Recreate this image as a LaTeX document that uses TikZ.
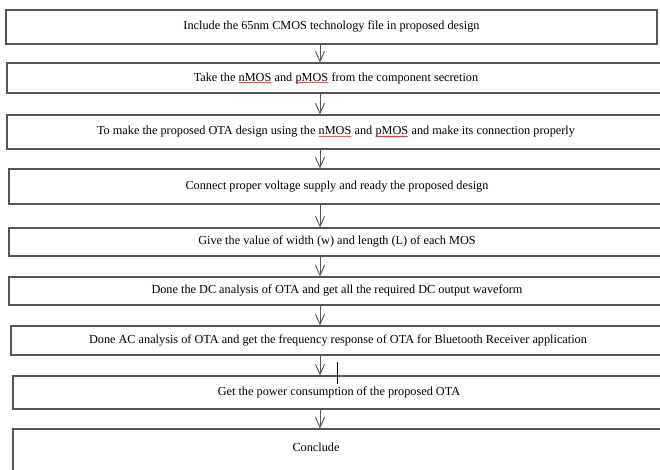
\documentclass[tikz,border=0pt]{standalone}
\usepackage{fontspec}
\setmainfont{Liberation Serif}
\usetikzlibrary{arrows.meta,decorations.pathmorphing}
\definecolor{edge}{HTML}{555555}
\tikzset{
  stepbox/.style={draw=edge, line width=1.2bp, rectangle, inner sep=0pt, anchor=center,
    font=\fontsize{12.3}{14}\selectfont},
  flow/.style={draw=edge, line width=0.9bp, -{Straight Barb[length=10bp,width=9bp]}},
  plain/.style={inner sep=0pt, font=\fontsize{12.3}{14}\selectfont},
}
\newcommand\spellerr[1]{\tikz[baseline=(sw.base)]{\node[draw=none,inner sep=0pt,outer sep=0pt,minimum width=0pt,minimum height=0pt](sw){#1};\draw[red,line width=0.4bp,decorate,decoration={snake,amplitude=0.5bp,segment length=2bp}]([yshift=-1.6bp]sw.base west)--([yshift=-1.6bp]sw.base east);}}
\begin{document}
\begin{tikzpicture}[x=1bp,y=-1bp]
\useasboundingbox (0,0) rectangle (660,470);
\node[stepbox, minimum width=651bp, minimum height=34bp] (b1) at (331.5,27) {Include the 65nm CMOS technology file in proposed design};
\node[stepbox, minimum width=658bp, minimum height=30bp] (b2) at (336,78) {Take the \spellerr{nMOS} and \spellerr{pMOS} from the component secretion};
\node[stepbox, minimum width=658bp, minimum height=34bp] (b3) at (336,132) {To make the proposed OTA design using the \spellerr{nMOS} and \spellerr{pMOS} and make its connection properly};
\node[stepbox, minimum width=656bp, minimum height=35bp] (b4) at (337,186.5) {Connect proper voltage supply and ready the proposed design};
\node[stepbox, minimum width=656bp, minimum height=28bp] (b5) at (337,242) {Give the value of width (w) and length (L) of each MOS};
\node[stepbox, minimum width=656bp, minimum height=28bp] (b6) at (337,291) {Done the DC analysis of OTA and get all the required DC output waveform};
\node[stepbox, minimum width=654bp, minimum height=29bp] (b7) at (338,340.5) {Done AC analysis of OTA and get the frequency response of OTA for Bluetooth Receiver application};
\node[stepbox, minimum width=652bp, minimum height=33bp] (b8) at (339,392.5) {Get the power consumption of the proposed OTA};
\node[stepbox, minimum width=652bp, minimum height=51bp] (b9) at (339,454.5) {};
\node[plain] (t9) at (316,447) {Conclude};
\coordinate (ax) at (320,0);
\draw[flow] (b1.south -| ax) -- (b2.north -| ax);
\draw[flow] (b2.south -| ax) -- (b3.north -| ax);
\draw[flow] (b3.south -| ax) -- (b4.north -| ax);
\draw[flow] (b4.south -| ax) -- (b5.north -| ax);
\draw[flow] (b5.south -| ax) -- (b6.north -| ax);
\draw[flow] (b6.south -| ax) -- (b7.north -| ax);
\draw[flow] (b7.south -| ax) -- (b8.north -| ax);
\draw[flow] (b8.south -| ax) -- (b9.north -| ax);
\coordinate (s1) at (337,362);
\coordinate (s2) at (337,384);
\draw[draw=black, line width=0.9bp] (s1) -- (s2);
\end{tikzpicture}
\end{document}
